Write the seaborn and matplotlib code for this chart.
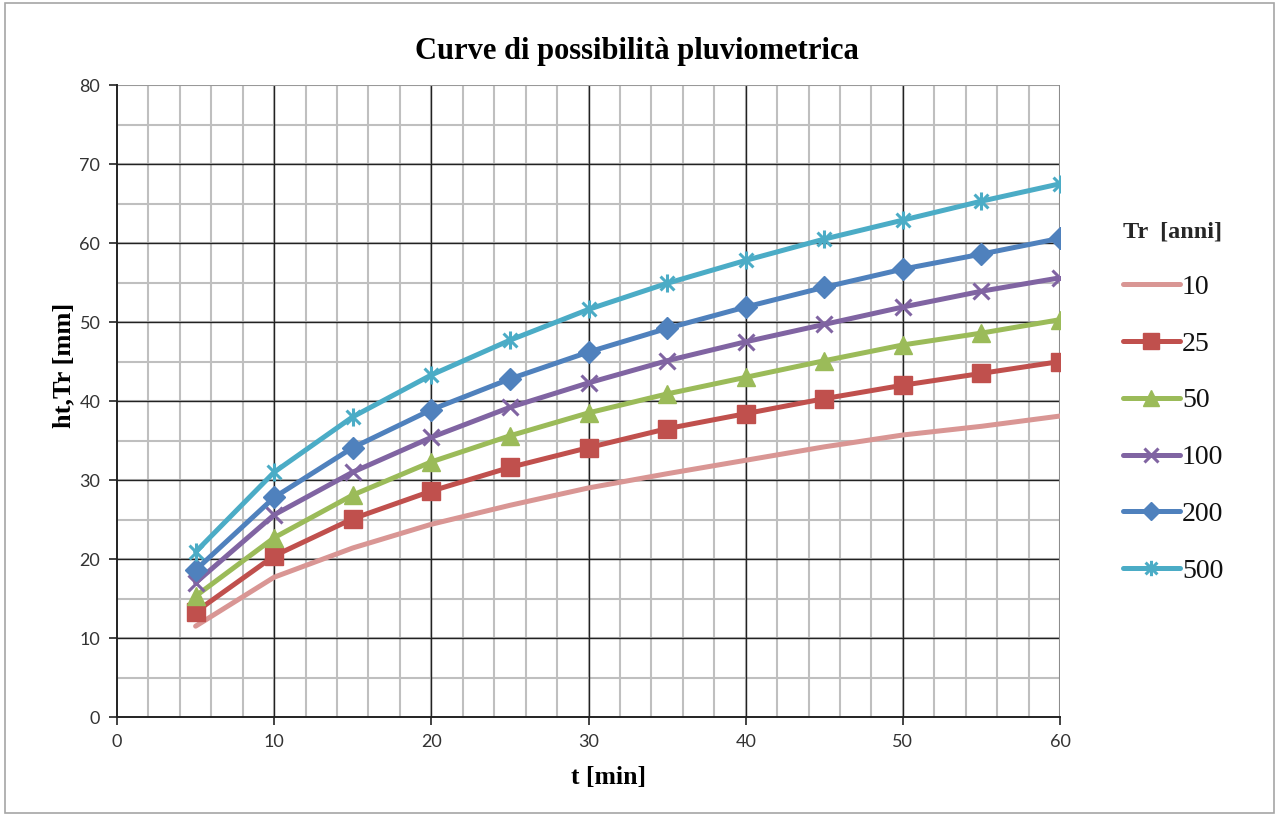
import numpy as np
import pandas as pd
import matplotlib
matplotlib.use("Agg")
import matplotlib.pyplot as plt
from matplotlib.path import Path
from matplotlib.patches import Rectangle
import seaborn as sns

t_min = [5, 10, 15, 20, 25, 30, 35, 40, 45, 50, 55, 60]
h_10 = [11.5, 17.7, 21.4, 24.4, 26.8, 29.0, 30.8, 32.5, 34.2, 35.7, 36.8, 38.1]
h_25 = [13.3, 20.4, 25.1, 28.6, 31.6, 34.1, 36.5, 38.4, 40.3, 42.0, 43.5, 45.0]
h_50 = [15.3, 22.7, 28.1, 32.3, 35.6, 38.5, 40.9, 43.0, 45.1, 47.1, 48.6, 50.3]
h_100 = [17.0, 25.6, 31.0, 35.4, 39.2, 42.3, 45.1, 47.5, 49.7, 51.9, 53.9, 55.6]
h_200 = [18.6, 27.8, 34.1, 38.9, 42.8, 46.2, 49.2, 51.9, 54.4, 56.7, 58.6, 60.6]
h_500 = [20.9, 31.0, 38.0, 43.3, 47.7, 51.6, 54.9, 57.8, 60.5, 62.9, 65.3, 67.5]
tr_labels = ["10", "25", "50", "100", "200", "500"]

sns.set_theme(style="white")
plt.rcParams['font.family'] = ['Liberation Serif', 'DejaVu Serif']

fig = plt.figure(figsize=(12.79, 8.16), dpi=100)
ax = fig.add_axes([0.0915, 0.1213, 0.8288 - 0.0915, 0.8958 - 0.1213])

ast = Path([(-1, -1), (1, 1), (-1, 1), (1, -1), (0, -1.3), (0, 1.3)],
           [Path.MOVETO, Path.LINETO, Path.MOVETO, Path.LINETO, Path.MOVETO, Path.LINETO])

colors = ["#D99694", "#C0504D", "#9BBB59", "#8064A2", "#4F81BD", "#4BACC6"]
markers = [None, "s", "^", "x", "D", ast]
msizes = [0, 13, 13, 12, 11, 13]
series = [h_10, h_25, h_50, h_100, h_200, h_500]

# grid
ax.set_xlim(0, 60)
ax.set_ylim(0, 80)
for xv in np.arange(2, 60, 2):
    ax.axvline(xv, color="#BFBFBF", lw=1.5, zorder=0)
for yv in np.arange(5, 80, 5):
    ax.axhline(yv, color="#BFBFBF", lw=1.5, zorder=0)
for xv in range(10, 60, 10):
    ax.axvline(xv, color="#222222", lw=1.0, zorder=0.5)
for yv in range(10, 80, 10):
    ax.axhline(yv, color="#222222", lw=1.0, zorder=0.5)
ax.axhline(80, color="#999999", lw=1.5, zorder=0.5)
ax.axvline(60, color="#8C8C8C", lw=1.5, zorder=0.5)

for lab, vals, c, m, ms in zip(tr_labels, series, colors, markers, msizes):
    df = pd.DataFrame({"t": t_min, "h": vals})
    kw = dict(color=c, lw=3.6, label=lab, ax=ax, zorder=3)
    if m is not None:
        kw.update(marker=m, markersize=ms, markeredgecolor=c, markerfacecolor=c,
                  markeredgewidth=2.2 if m in ("x",) or isinstance(m, Path) else 1)
    sns.lineplot(data=df, x="t", y="h", **kw)

ax.set_xticks(range(0, 61, 10))
ax.set_yticks(range(0, 81, 10))
ax.tick_params(axis="both", labelsize=13, length=6, width=1.2, direction="out",
               bottom=True, left=True, color="#222222", labelcolor="#333333", pad=6)
for lbl in ax.get_xticklabels() + ax.get_yticklabels():
    lbl.set_fontfamily("Lato")
for s in ["left", "bottom"]:
    ax.spines[s].set_color("#222222")
    ax.spines[s].set_linewidth(1.4)
ax.spines["top"].set_visible(False)
ax.spines["right"].set_visible(False)

ax.set_xlabel("t [min]", fontsize=18.5, fontweight="bold", color="black")
ax.set_ylabel("ht,Tr [mm]", fontsize=19, fontweight="bold", color="black")
ax.xaxis.set_label_coords(0.521, -0.095)
ax.yaxis.set_label_coords(-0.056, 0.557)
ax.xaxis.label.set_va("center")
ax.yaxis.label.set_va("center")

fig.text(0.498, 0.937, "Curve di possibilità pluviometrica", ha="center", va="center",
         fontsize=22, fontweight="bold", color="black")

leg = ax.legend(title="Tr  [anni]", loc="upper left", bbox_to_anchor=(1.04, 0.823),
                frameon=False, fontsize=20, title_fontproperties={"weight": "bold", "size": 17.5},
                handlelength=2.05, handletextpad=0.08, labelspacing=1.13, markerscale=0.85)
leg._legend_box.align = "left"
for txt in leg.get_texts():
    txt.set_color("#111111")

fig.patches.append(Rectangle((0.004, 0.004), 0.992, 0.992, transform=fig.transFigure,
                             fill=False, edgecolor="#A6A6A6", lw=1.2))

fig.savefig("out.png", dpi=100)
